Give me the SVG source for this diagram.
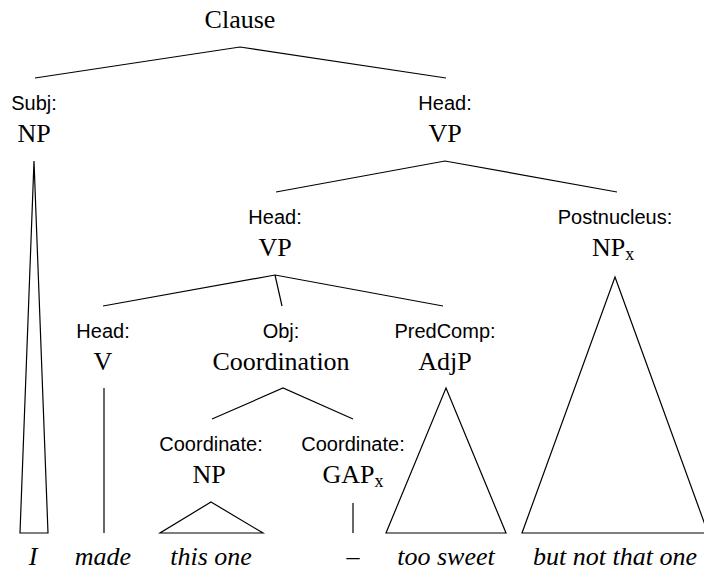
<svg xmlns="http://www.w3.org/2000/svg" width="704" height="573" viewBox="0 0 704 573">
  <style>
    .cat { font-family: "Liberation Serif", "Times New Roman", serif; font-size: 26px; text-anchor: middle; fill: #000; }
    .fn { font-family: "Liberation Sans", Arial, sans-serif; font-size: 20px; text-anchor: middle; fill: #000; }
    .word { font-family: "Liberation Serif", "Times New Roman", serif; font-size: 26px; font-style: italic; text-anchor: middle; fill: #000; }
    .sub { font-size: 18px; }
    .edge { stroke: #000; stroke-width: 1.2; fill: none; }
    .tri { stroke: #000; stroke-width: 1.2; fill: #fff; stroke-linejoin: miter; }
  </style>
  <rect width="704" height="573" fill="#fff"/>

  <!-- branches -->
  <g id="connectors">
    <polyline class="edge" points="35,78 240,47 446,78"/>
    <polyline class="edge" points="276,192 445,161 617,192"/>
    <polyline class="edge" points="103,306 275,275 443,306"/>
    <line class="edge" x1="275" y1="275" x2="282" y2="306"/>
    <polyline class="edge" points="212,419 283,388 353,419"/>
    <!-- roofs and unary lines down to the words -->
    <polygon class="tri" points="34,161 48,533 20,533"/>
    <line class="edge" x1="104" y1="388" x2="104" y2="533"/>
    <polygon class="tri" points="211,502 263,533 160,533"/>
    <line class="edge" x1="353" y1="503" x2="353" y2="533"/>
    <polygon class="tri" points="446,388 506,533 386,533"/>
    <polygon class="tri" points="615,277 708,533 522,533"/>
  </g>

  <g id="clause">
    <text class="cat" x="240" y="28">Clause</text>
  </g>

  <g id="subj-np">
    <text class="fn" x="34" y="110">Subj:</text>
    <text class="cat" x="34" y="142">NP</text>
  </g>

  <g id="head-vp">
    <text class="fn" x="445" y="110">Head:</text>
    <text class="cat" x="445" y="142">VP</text>
  </g>

  <g id="head-vp-inner">
    <text class="fn" x="275" y="224">Head:</text>
    <text class="cat" x="275" y="256">VP</text>
  </g>

  <g id="postnucleus-np">
    <text class="fn" x="615" y="224">Postnucleus:</text>
    <text class="cat" x="613" y="256">NP<tspan class="sub" dy="4">x</tspan></text>
  </g>

  <g id="head-v">
    <text class="fn" x="103" y="338">Head:</text>
    <text class="cat" x="103" y="370">V</text>
  </g>

  <g id="obj-coordination">
    <text class="fn" x="281" y="338">Obj:</text>
    <text class="cat" x="281" y="370">Coordination</text>
  </g>

  <g id="predcomp-adjp">
    <text class="fn" x="445" y="338">PredComp:</text>
    <text class="cat" x="445" y="370">AdjP</text>
  </g>

  <g id="coordinate-np">
    <text class="fn" x="211" y="451">Coordinate:</text>
    <text class="cat" x="209" y="483">NP</text>
  </g>

  <g id="coordinate-gap">
    <text class="fn" x="353" y="451">Coordinate:</text>
    <text class="cat" x="353" y="483">GAP<tspan class="sub" dy="4">x</tspan></text>
  </g>

  <g id="words">
    <text class="word" x="33" y="565">I</text>
    <text class="word" x="103" y="565">made</text>
    <text class="word" x="211" y="565">this one</text>
    <text class="word" x="353" y="565">–</text>
    <text class="word" x="446" y="565">too sweet</text>
    <text class="word" x="615" y="565">but not that one</text>
  </g>
</svg>
